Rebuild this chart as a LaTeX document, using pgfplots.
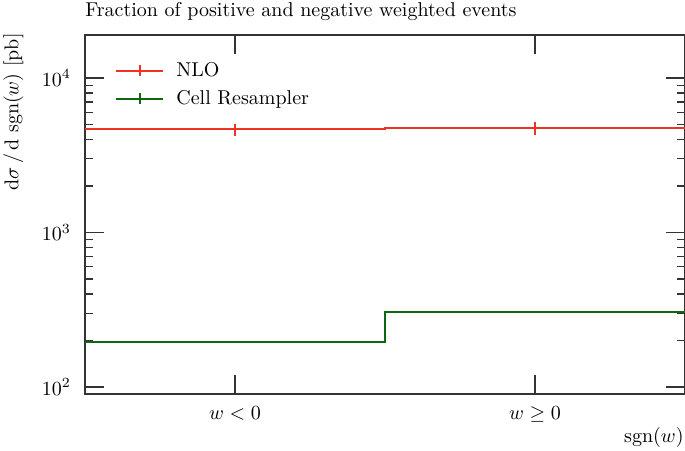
\documentclass[border=0pt]{standalone}
\usepackage{pgfplots}
\pgfplotsset{compat=1.18}
\definecolor{nlored}{HTML}{EE3322}
\definecolor{cellgreen}{HTML}{116611}
\definecolor{axgray}{HTML}{333333}
\pgfplotsset{
  histleg/.style={legend image code/.code={
    \draw[line width=1pt] (0pt,0pt) -- (23.5pt,0pt);
    \draw[line width=1pt] (11.75pt,-2.75pt) -- (11.75pt,2.75pt);
    \path (27.5pt,0pt);
  }}
}
\begin{document}
\begin{tikzpicture}
\begin{axis}[
  scale only axis,
  width=300pt, height=179.5pt,
  at={(0,0)}, anchor=south west,
  ymode=log,
  xmin=-1, xmax=1,
  ymin=90.1, ymax=19000,
  xtick={-0.5,0.5},
  xticklabels={$w<0$,$w\geq 0$},
  ytick={100,1000,10000},
  yticklabels={$10^2$,$10^3$,$10^4$},
  minor ytick={200,300,400,500,600,700,800,900,2000,3000,4000,5000,6000,7000,8000,9000},
  tick align=inside,
  major tick length=9.5pt,
  minor tick length=4pt,
  axis line style={axgray, line width=0.6pt},
  every tick/.style={axgray, line width=0.6pt},
  yticklabel style={xshift=-3.5pt},
  xticklabel style={yshift=-3pt},
  legend style={at={(0.05,0.937)}, anchor=north west, draw=none, fill=none,
    row sep=1.5pt, inner sep=0pt, nodes={inner sep=2pt}},
  legend cell align=left,
]
\addplot[nlored, line width=1pt, histleg, const plot mark left] coordinates {(-1,4645) (0,4755) (1,4755)};
\addlegendentry{NLO}
\addplot[cellgreen, line width=1pt, histleg, const plot mark left] coordinates {(-1,196) (0,304) (1,304)};
\addlegendentry{Cell Resampler}
\addplot[nlored, draw=none, mark=none, forget plot,
  error bars/.cd, y dir=both, y explicit, error bar style={line width=1pt, nlored}, error mark=none]
  coordinates {(-0.5,4645) +- (0,430) (0.5,4755) +- (0,460)};
\addplot[cellgreen, draw=none, mark=none, forget plot,
  error bars/.cd, y dir=both, y explicit, error bar style={line width=1pt, cellgreen}, error mark=none]
  coordinates {(-0.5,196) +- (0,1) (0.5,304) +- (0,1)};
\end{axis}
\node[anchor=base west, inner sep=0pt] at (0pt,188.5pt) {Fraction of positive and negative weighted events};
\node[rotate=90, anchor=north east, inner sep=0pt] at (-41pt,180.5pt) {$\mathrm{d}\sigma\,/\,\mathrm{d}\ \mathrm{sgn}(w)$ [pb]};
\node[anchor=base east, inner sep=0pt] at (299.5pt,-24pt) {$\mathrm{sgn}(w)$};
\pgfresetboundingbox
\path (-42.5pt,-28pt) rectangle (300pt,197pt);
\end{tikzpicture}
\end{document}
